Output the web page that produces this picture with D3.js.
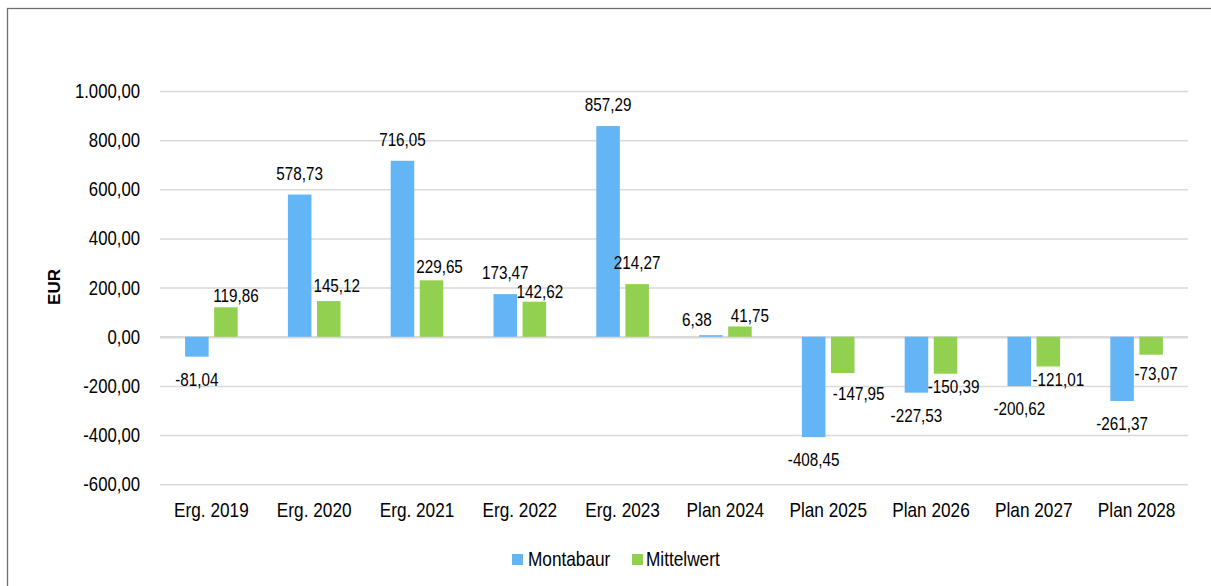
<!DOCTYPE html>
<html>
<head>
<meta charset="utf-8">
<script src="https://cdn.jsdelivr.net/npm/d3@7"></script>
<style>
  html, body { margin: 0; padding: 0; background: #fff; }
  svg { display: block; font-family: "Liberation Sans", Arial, sans-serif; }
  .grid line { stroke: #d9d9d9; stroke-width: 1.5; }
  .grid text { fill: #000; font-size: 20.4px; }
  .x-axis text { fill: #000; font-size: 21px; }
  .value-label { fill: #000; font-size: 18.6px; text-anchor: middle; }
</style>
</head>
<body>
<div id="chart"></div>
<script>
const categories = ["Erg. 2019", "Erg. 2020", "Erg. 2021", "Erg. 2022", "Erg. 2023",
  "Plan 2024", "Plan 2025", "Plan 2026", "Plan 2027", "Plan 2028"];
const seriesNames = ["Montabaur", "Mittelwert"];
const montabaur = [-81.04, 578.73, 716.05, 173.47, 857.29, 6.38, -408.45, -227.53, -200.62, -261.37];
const mittelwert = [119.86, 145.12, 229.65, 142.62, 214.27, 41.75, -147.95, -150.39, -121.01, -73.07];
const yTicks = [-600, -400, -200, 0, 200, 400, 600, 800, 1000];

// label nudges (px) where the original labels were moved by hand
const labelNudge = {
  Montabaur: [[0,0],[0,0],[0,0],[0,0],[0,0],[-14,6],[0,0],[0,0],[0,0],[0,0]],
  Mittelwert: [[10,10],[8,6],[8,8],[5.5,11],[0,0],[10,11],[16,-2],[8,-10],[10,-9],[5,-4]]
};

const colors = { Montabaur: "#64b5f6", Mittelwert: "#92d050" };

const W = 1211, H = 586;
const plot = { left: 160, right: 1188, top: 91, bottom: 484.2 };
const squeeze = 0.82; // the original text is a narrow face

const de = d3.formatLocale({ decimal: ",", thousands: ".", grouping: [3], currency: ["", " €"], minus: "-" });
const fmt = de.format(",.2f");

function narrow(sel) {
  sel.each(function () {
    const len = this.getComputedTextLength();
    d3.select(this)
      .attr("textLength", len * squeeze)
      .attr("lengthAdjust", "spacingAndGlyphs");
  });
}

const svg = d3.select("#chart").append("svg")
  .attr("width", W)
  .attr("height", H);

// outer frame
svg.append("rect")
  .attr("x", 7.5).attr("y", 8.5)
  .attr("width", W + 20).attr("height", H + 20)
  .attr("fill", "none")
  .attr("stroke", "#6e6e6e")
  .attr("stroke-width", 1.3);

const x = d3.scaleBand()
  .domain(categories)
  .range([plot.left, plot.right])
  .padding(0);

const groupW = 52.6;
const xInner = d3.scaleBand()
  .domain(seriesNames)
  .range([x.bandwidth() / 2 - groupW / 2, x.bandwidth() / 2 + groupW / 2])
  .paddingInner(0.19);

const y = d3.scaleLinear()
  .domain([-600, 1000])
  .range([plot.bottom, plot.top]);

// y grid + tick labels
const gy = svg.append("g")
  .attr("class", "grid")
  .attr("transform", `translate(${plot.left},0)`)
  .call(d3.axisLeft(y)
    .tickValues(yTicks)
    .tickSize(-(plot.right - plot.left))
    .tickPadding(20)
    .tickFormat(fmt));
gy.select(".domain").remove();
gy.selectAll(".tick line").filter(d => d === 0).style("stroke-width", 2.6);
gy.selectAll(".tick text").call(narrow);

// x labels
const gx = svg.append("g")
  .attr("class", "x-axis")
  .attr("transform", `translate(0,${plot.bottom})`)
  .call(d3.axisBottom(x).tickSize(0).tickPadding(17.6));
gx.select(".domain").remove();
gx.selectAll(".tick text").call(narrow);

// bars
const rows = categories.map((c, i) => ({
  category: c,
  values: [
    { series: "Montabaur", value: montabaur[i], i },
    { series: "Mittelwert", value: mittelwert[i], i }
  ]
}));

const groups = svg.append("g").selectAll("g")
  .data(rows)
  .join("g")
  .attr("transform", d => `translate(${x(d.category)},0)`);

groups.selectAll("rect")
  .data(d => d.values)
  .join("rect")
  .attr("x", d => xInner(d.series))
  .attr("width", xInner.bandwidth())
  .attr("y", d => y(Math.max(0, d.value)))
  .attr("height", d => Math.abs(y(d.value) - y(0)))
  .attr("fill", d => colors[d.series]);

groups.selectAll("text")
  .data(d => d.values)
  .join("text")
  .attr("class", "value-label")
  .attr("x", d => xInner(d.series) + xInner.bandwidth() / 2 + labelNudge[d.series][d.i][0])
  .attr("y", d => (d.value >= 0 ? y(d.value) - 21.7 : y(d.value) + 22.3) + labelNudge[d.series][d.i][1])
  .attr("dy", "0.36em")
  .text(d => fmt(d.value))
  .call(narrow);

// y axis title
svg.append("text")
  .attr("transform", "translate(54,287) rotate(-90)")
  .attr("text-anchor", "middle")
  .attr("dy", "0.36em")
  .style("font-size", "17px")
  .style("font-weight", "bold")
  .text("EUR");

// legend
const legendItems = [
  { name: "Montabaur", x: 512, tx: 528 },
  { name: "Mittelwert", x: 632, tx: 646 }
];
const legend = svg.append("g");
legend.selectAll("rect")
  .data(legendItems)
  .join("rect")
  .attr("x", d => d.x).attr("y", 554)
  .attr("width", 11).attr("height", 11)
  .attr("fill", d => colors[d.name]);
legend.selectAll("text")
  .data(legendItems)
  .join("text")
  .attr("x", d => d.tx).attr("y", 566)
  .style("font-size", "21px")
  .text(d => d.name)
  .call(narrow);
</script>
</body>
</html>
